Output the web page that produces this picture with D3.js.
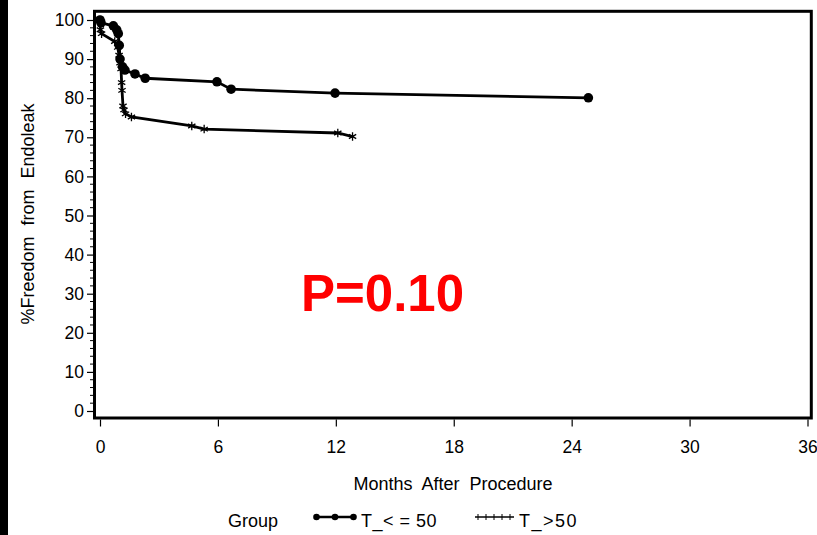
<!DOCTYPE html>
<html>
<head>
<meta charset="utf-8">
<script src="https://cdn.jsdelivr.net/npm/d3@7"></script>
<style>
  body { margin: 0; background: #fff; }
  svg { display: block; font-family: "Liberation Sans", Arial, sans-serif; }
</style>
</head>
<body>
<div id="chart"></div>
<script>
// Kaplan-Meier style curves (months, % free from endoleak)
var monthsLow = [0, 0.05, 0.68, 0.85, 0.93, 0.98, 1.02, 1.15, 1.27, 1.78, 2.3, 5.95, 6.67, 11.96, 24.85]
var survLow   = [100, 99.3, 98.5, 97.5, 96.5, 93.5, 90, 88, 87.2, 86.2, 85.1, 84.2, 82.3, 81.3, 80.1]

var monthsHigh = [0, 0.02, 0.08, 0.75, 0.9, 0.97, 1.02, 1.07, 1.1, 1.12, 1.17, 1.22, 1.3, 1.6, 4.67, 5.3, 12.1, 12.85]
var survHigh   = [100, 97.5, 96.5, 94.5, 93, 91, 89, 87.5, 84, 82, 78, 77, 76, 75.2, 72.9, 72.1, 71.1, 70.2]

var xTicks = [0, 6, 12, 18, 24, 30, 36]
var yTicks = [0, 10, 20, 30, 40, 50, 60, 70, 80, 90, 100]
var groupNames = ["T_< = 50", "T_>50"]
var pText = "P=0.10"

document.addEventListener('DOMContentLoaded', function(){
  const W = 817, H = 535

  const svg = d3.select("#chart").append("svg")
                .attr("width", W)
                .attr("height", H)

  // black strip on the left edge of the slide
  svg.append("rect").attr("x", 0).attr("y", 0).attr("width", 8).attr("height", H).attr("fill", "#000")

  const xScale = d3.scaleLinear().domain([0, 36]).range([100, 807.5])
  const yScale = d3.scaleLinear().domain([0, 100]).range([411, 20])

  // frame
  const frame = {left: 94.5, right: 811.3, top: 11.3, bottom: 418}
  svg.append("rect")
     .attr("x", frame.left).attr("y", frame.top)
     .attr("width", frame.right - frame.left)
     .attr("height", frame.bottom - frame.top)
     .attr("fill", "none").attr("stroke", "#000").attr("stroke-width", 3)

  //y axis, majors + minors every 2
  const yAxis = d3.axisLeft(yScale).tickValues(yTicks).tickSize(6).tickPadding(3).tickFormat(d3.format("d"))
  const gy = svg.append("g")
     .attr("transform", "translate(" + (frame.left - 1.5) + ",0)")
     .call(yAxis)
  gy.select(".domain").remove()
  gy.selectAll("text").attr("font-size", 17.5).attr("fill", "#000")
  gy.selectAll(".tick line").attr("stroke-width", 1.2)

  const yMinor = d3.range(0, 101, 2).filter(v => v % 10 != 0)
  svg.append("g").selectAll("line")
     .data(yMinor).enter().append("line")
     .attr("x1", frame.left - 1.5).attr("x2", frame.left - 4.5)
     .attr("y1", d => yScale(d)).attr("y2", d => yScale(d))
     .attr("stroke", "#000").attr("stroke-width", 1)

  //x axis below the frame
  const xAxis = d3.axisBottom(xScale).tickValues(xTicks).tickSize(7).tickPadding(14)
  const gx = svg.append("g")
     .attr("transform", "translate(0," + (frame.bottom + 1.5) + ")")
     .call(xAxis)
  gx.select(".domain").remove()
  gx.selectAll("text").attr("font-size", 17.5).attr("fill", "#000")
  gx.selectAll(".tick line").attr("stroke-width", 1.2)

  // axis titles
  svg.append("text")
     .attr("x", 453).attr("y", 490)
     .attr("text-anchor", "middle")
     .attr("font-size", 18)
     .style("word-spacing", "5px")
     .text("Months After Procedure")

  svg.append("text")
     .attr("transform", "translate(34,214) rotate(-90)")
     .attr("text-anchor", "middle")
     .attr("font-size", 18)
     .style("word-spacing", "6px")
     .text("%Freedom from Endoleak")

  // curves
  const line = d3.line().x(d => xScale(d[0])).y(d => yScale(d[1]))
  const lowData = monthsLow.map((m, i) => [m, survLow[i]])
  const highData = monthsHigh.map((m, i) => [m, survHigh[i]])

  svg.append("path").datum(highData)
     .attr("d", line).attr("fill", "none").attr("stroke", "#000").attr("stroke-width", 2.8)
  svg.append("path").datum(lowData)
     .attr("d", line).attr("fill", "none").attr("stroke", "#000").attr("stroke-width", 2.8)

  svg.append("g").selectAll("path")
     .data(highData).enter().append("path")
     .attr("transform", d => "translate(" + xScale(d[0]) + "," + yScale(d[1]) + ")")
     .attr("d", d3.symbol(d3.symbolAsterisk, 50))
     .attr("fill", "none").attr("stroke", "#000").attr("stroke-width", 1.3)

  svg.append("g").selectAll("circle")
     .data(lowData).enter().append("circle")
     .attr("cx", d => xScale(d[0])).attr("cy", d => yScale(d[1]))
     .attr("r", 4.8).attr("fill", "#000")

  // p-value
  svg.append("text")
     .attr("x", 301).attr("y", 311)
     .attr("font-size", 51).attr("font-weight", "bold")
     .attr("fill", "#ff0000")
     .text(pText)

  // legend
  const lg = svg.append("g").attr("font-size", 18)
  lg.append("text").attr("x", 228).attr("y", 527).text("Group")

  lg.append("line").attr("x1", 316).attr("x2", 354).attr("y1", 517).attr("y2", 517)
    .attr("stroke", "#000").attr("stroke-width", 2.5)
  lg.selectAll("circle").data([316.5, 335, 353.5]).enter().append("circle")
    .attr("cx", d => d).attr("cy", 517).attr("r", 3.3).attr("fill", "#000")
  lg.append("text").attr("x", 361).attr("y", 527).style("letter-spacing", "0.5px").text(groupNames[0])

  lg.append("line").attr("x1", 475).attr("x2", 514).attr("y1", 517).attr("y2", 517)
    .attr("stroke", "#000").attr("stroke-width", 1.3)
  lg.selectAll(".tk").data([478, 486, 494, 502, 510]).enter().append("line")
    .attr("class", "tk")
    .attr("x1", d => d).attr("x2", d => d).attr("y1", 514).attr("y2", 520)
    .attr("stroke", "#000").attr("stroke-width", 1)
  lg.append("text").attr("x", 519).attr("y", 527).style("letter-spacing", "1.5px").text(groupNames[1])
})
</script>
</body>
</html>
